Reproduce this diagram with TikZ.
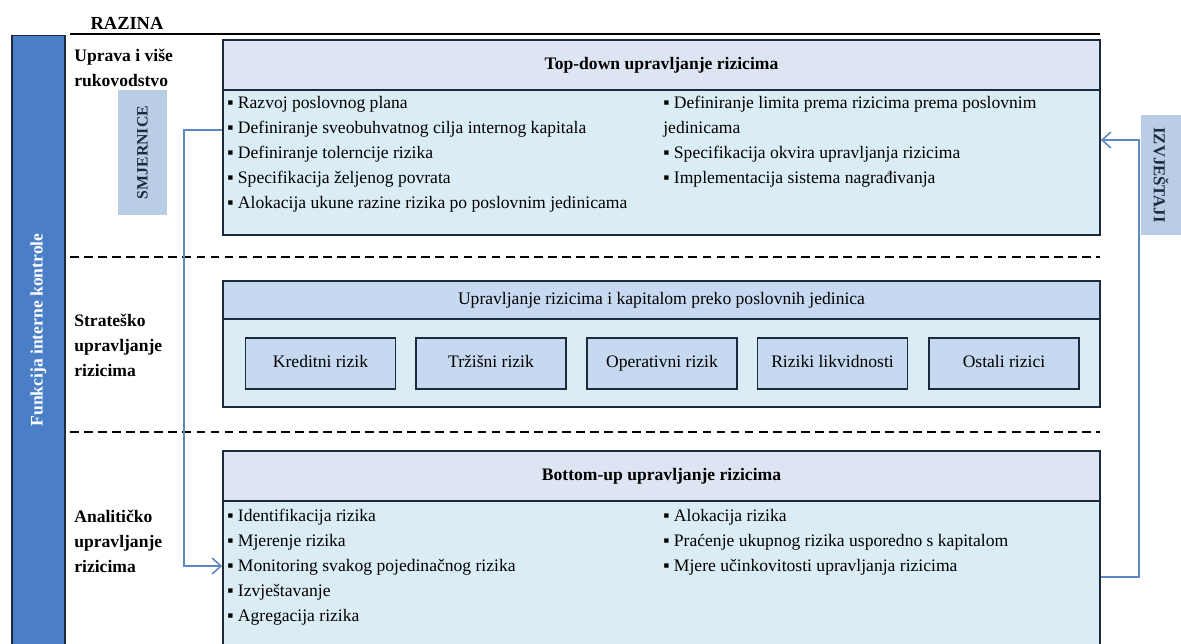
\documentclass[tikz,border=0pt]{standalone}
\usepackage{fontspec}
\setmainfont{Liberation Serif}
\usetikzlibrary{arrows.meta}
\definecolor{barblue}{HTML}{4A7FC8}
\definecolor{sideblue}{HTML}{B9CDE5}
\definecolor{headgrey}{HTML}{DCE5F1}
\definecolor{headblue}{HTML}{C6D9F0}
\definecolor{bodycyan}{HTML}{DBEDF4}
\definecolor{navy}{HTML}{1C2A3E}
\definecolor{flowblue}{HTML}{5F88BE}
\tikzstyle{header}=[rectangle,draw=navy,line width=1.1pt,minimum width=17.54cm,inner sep=0pt,text height=0.7em,text depth=0.22em,font=\fontsize{10}{12}\selectfont]
\tikzstyle{bodybox}=[rectangle,draw=navy,line width=1.1pt,fill=bodycyan,minimum width=17.54cm,inner sep=0pt]
\tikzstyle{riskbox}=[rectangle,draw=navy,line width=1.1pt,fill=headblue,minimum width=3cm,minimum height=1.02cm,inner sep=0pt,text height=0.7em,text depth=0.22em,font=\fontsize{10}{12}\selectfont]
\tikzstyle{sidebox}=[rectangle,fill=sideblue,inner sep=0pt,text=navy]
\tikzstyle{item}=[anchor=base west,inner sep=0pt,font=\fontsize{10}{12}\selectfont]
\tikzstyle{rowlabel}=[anchor=west,align=left,inner sep=0pt,font=\bfseries\fontsize{10}{14.2}\selectfont]
\tikzstyle{flow}=[draw=flowblue,line width=0.9pt,-{Straight Barb[length=5pt,width=9pt]}]
\tikzstyle{levelline}=[draw=black,line width=1.3pt,dash pattern=on 5pt off 3pt]

\begin{document}
\begin{tikzpicture}[x=0.02cm,y=-0.02cm]

	\useasboundingbox (0,0) rectangle (1181,643);
	\def\lx{227};
	\def\rx{663};

% Level title
	\node[inner sep=0pt,font=\bfseries\fontsize{10.5}{12}\selectfont] (razina) at (127,23) {RAZINA};
	\draw[line width=1.3pt] (70,34) -- (1100,34);

% control bar
	\node[rectangle,draw=navy,line width=0.6pt,fill=barblue,minimum width=1.06cm,minimum height=12.3cm,inner sep=0pt] (bar) at (38.5,342.5) {};
	\node[rotate=90,inner sep=0pt,text=white,font=\bfseries\fontsize{10}{12}\selectfont] (barlabel) at (38.5,330) {Funkcija interne kontrole};

% row labels
	\node[rowlabel] (uprava) at (74,68) {Uprava i više\\rukovodstvo};
	\node[rowlabel] (strat) at (74,345) {Strateško\\upravljanje\\rizicima};
	\node[rowlabel] (anal) at (74,541) {Analitičko\\upravljanje\\rizicima};

% separators
	\draw[levelline] (70,257) -- (1100,257);
	\draw[levelline] (70,432) -- (1100,432);

%Top-down
	\node[bodybox,minimum height=2.9cm] (tdbody) at (661.5,162.5) {};
	\node[header,fill=headgrey,minimum height=1cm,font=\bfseries\fontsize{10}{12}\selectfont] (tdhead) at (661.5,65) {Top-down upravljanje rizicima};
	\foreach \ypos/\name/\txt in {{108/tdA/Razvoj poslovnog plana},
	                              {133/tdB/Definiranje sveobuhvatnog cilja internog kapitala},
	                              {158/tdC/Definiranje tolerncije rizika},
	                              {183/tdD/Specifikacija željenog povrata},
	                              {208/tdE/Alokacija ukune razine rizika po poslovnim jedinicama}}
		\node[item] (\name) at (\lx,\ypos) {▪ \txt};
	\foreach \ypos/\name/\txt in {{108/tdF/▪ Definiranje limita prema rizicima prema poslovnim},
	                              {133/tdG/jedinicama},
	                              {158/tdH/▪ Specifikacija okvira upravljanja rizicima},
	                              {183/tdI/▪ Implementacija sistema nagrađivanja}}
		\node[item] (\name) at (\rx,\ypos) {\txt};

%Strategic
	\node[bodybox,minimum height=1.76cm] (sgbody) at (661.5,363) {};
	\node[header,fill=headblue,minimum height=0.76cm] (sghead) at (661.5,300) {Upravljanje rizicima i kapitalom preko poslovnih jedinica};
	\foreach \xpos/\name/\txt in {{320.5/kred/Kreditni rizik}, {491/trz/Tržišni rizik}, {662/oper/Operativni rizik},
	                              {832.5/likv/Riziki likvidnosti}, {1004/ost/Ostali rizici}}
		\node[riskbox] (\name) at (\xpos,363.5) {\txt};

%Bottom-up
	\node[bodybox,minimum height=2.98cm] (bubody) at (661.5,575.5) {};
	\node[header,fill=headgrey,minimum height=1cm,font=\bfseries\fontsize{10}{12}\selectfont] (buhead) at (661.5,476) {Bottom-up upravljanje rizicima};
	\foreach \ypos/\name/\txt in {{521/buA/Identifikacija rizika},
	                              {546/buB/Mjerenje rizika},
	                              {571/buC/Monitoring svakog pojedinačnog rizika},
	                              {596/buD/Izvještavanje},
	                              {621/buE/Agregacija rizika}}
		\node[item] (\name) at (\lx,\ypos) {▪ \txt};
	\foreach \ypos/\name/\txt in {{521/buF/Alokacija rizika},
	                              {546/buG/Praćenje ukupnog rizika usporedno s kapitalom},
	                              {571/buH/Mjere učinkovitosti upravljanja rizicima}}
		\node[item] (\name) at (\rx,\ypos) {▪ \txt};

% side boxes
	\node[sidebox,rotate=90,minimum width=2.5cm,minimum height=0.98cm,font=\bfseries\fontsize{9}{11}\selectfont] (smj) at (142.5,152.5) {SMJERNICE};
	\node[sidebox,rotate=-90,minimum width=2.4cm,minimum height=0.8cm,font=\bfseries\fontsize{9.5}{11}\selectfont] (izv) at (1161,175) {IZVJEŠTAJI};

% flows
	\draw[flow] (tdbody.west |- 0,130) -- (184,130) -- (184,566) -- (bubody.west |- 0,566);
	\draw[flow] (bubody.east |- 0,577) -- (1139,577) -- (1139,140) -- (tdbody.east |- 0,140);

\end{tikzpicture}
\end{document}
